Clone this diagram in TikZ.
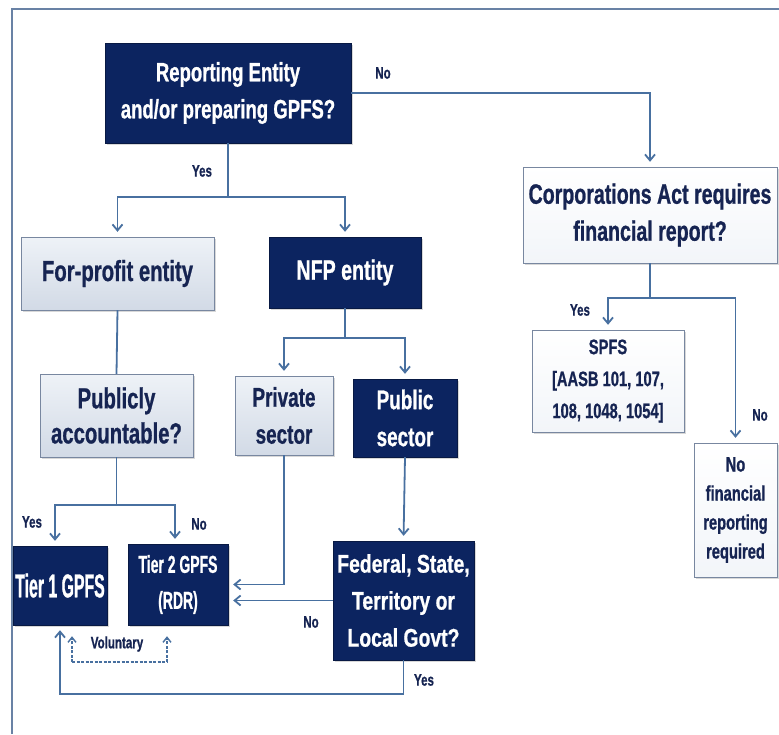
\documentclass[tikz,border=0pt]{standalone}
\usepackage{fontspec}
\setmainfont{Liberation Sans}[FakeStretch=0.70, BoldFeatures={FakeBold=0.8}]
\newfontfamily\fTone{Liberation Sans}[FakeStretch=0.48, BoldFeatures={FakeBold=0.8}]
\newfontfamily\fTtwo{Liberation Sans}[FakeStretch=0.57, BoldFeatures={FakeBold=0.8}]
\newfontfamily\fFed{Liberation Sans}[FakeStretch=0.76, BoldFeatures={FakeBold=0.8}]
\usetikzlibrary{arrows.meta,shadows}
\definecolor{navy}{RGB}{12,36,96}
\definecolor{txtnavy}{RGB}{22,36,82}
\definecolor{lnblue}{RGB}{72,112,160}
\definecolor{lightA}{RGB}{238,242,247}
\definecolor{lightB}{RGB}{210,218,230}
\definecolor{whiteB}{RGB}{242,245,249}
\definecolor{framec}{RGB}{105,130,165}
\definecolor{bordgray}{RGB}{120,135,160}
\begin{document}
\begin{tikzpicture}[x=1pt,y=-1pt,
  basebox/.style={rectangle, align=center, inner sep=0pt,
    drop shadow={opacity=0.3,shadow xshift=2pt,shadow yshift=-2pt}},
  darkbox/.style={basebox, draw=navy!70!black, fill=navy, text=white},
  lightbox/.style={basebox, draw=bordgray, top color=lightA, bottom color=lightB, text=txtnavy},
  whitebox/.style={basebox, draw=bordgray, top color=white, bottom color=whiteB, text=txtnavy},
  bigfont/.style={font=\bfseries\fontsize{28}{37}\selectfont},
  conn/.style={draw=lnblue, line width=1.8pt},
  arr/.style={conn, -{Straight Barb[length=6pt,width=10pt]}, shorten >=5pt},
  lbl/.style={text=txtnavy, font=\bfseries\fontsize{16.5}{18}\selectfont, inner sep=0pt},
  volline/.style={draw=lnblue, line width=1.4pt, dash pattern=on 3pt off 1.5pt},
  volarr/.style={volline, -{Straight Barb[length=5pt,width=8pt]}},
]
\useasboundingbox (0,0) rectangle (779,734);
\fill[white] (0,0) rectangle (779,734);
% frame
\draw[framec, line width=1.5pt] (12,734) -- (12,9) -- (779,9);

% nodes
\node[darkbox, font=\bfseries\fontsize{26.5}{37}\selectfont, minimum width=246pt, minimum height=100pt] (rep) at (228,93) {Reporting Entity\\and/or preparing GPFS?};
\node[whitebox, bigfont, minimum width=254pt, minimum height=96pt] (corp) at (650,215) {Corporations Act requires\\financial report?};
\node[lightbox, font=\bfseries\fontsize{29}{37}\selectfont, minimum width=193pt, minimum height=73pt] (forp) at (117.5,273.5) {For-profit entity};
\node[darkbox, bigfont, minimum width=152pt, minimum height=71pt] (nfp) at (345,272.5) {NFP entity};
\node[lightbox, font=\bfseries\fontsize{29}{35}\selectfont, minimum width=153pt, minimum height=83pt] (pub) at (116.5,415.5) {Publicly\\accountable?};
\node[lightbox, font=\bfseries\fontsize{27}{37}\selectfont, minimum width=98pt, minimum height=79pt] (priv) at (284,415.5) {Private\\sector};
\node[darkbox, font=\bfseries\fontsize{27}{37}\selectfont, minimum width=104pt, minimum height=78pt] (publ) at (405,418) {Public\\sector};
\node[darkbox, font=\fTone\bfseries\fontsize{33}{36}\selectfont, minimum width=94pt, minimum height=79pt] (t1) at (60,585.5) {Tier 1 GPFS};
\node[darkbox, font=\fTtwo\bfseries\fontsize{24.5}{36}\selectfont, minimum width=100pt, minimum height=81pt] (t2) at (178,584.5) {Tier 2 GPFS\\(RDR)};
\node[darkbox, font=\fFed\bfseries\fontsize{25.5}{37}\selectfont, minimum width=141pt, minimum height=119pt] (fed) at (403.5,600.5) {Federal, State,\\Territory or\\Local Govt?};
\node[whitebox, font=\bfseries\fontsize{21}{32}\selectfont, minimum width=152pt, minimum height=102pt] (spfs) at (608,381) {SPFS\\{}[AASB 101, 107,\\108, 1048, 1054]};
\node[whitebox, font=\bfseries\fontsize{21}{29}\selectfont, minimum width=83pt, minimum height=134pt] (nofin) at (735.5,510) {No\\financial\\reporting\\required};

% junction coordinates
\coordinate (j1) at (228,197);
\coordinate (j2) at (345,338);
\coordinate (j3) at (116.5,505);
\coordinate (j4) at (650,298);
\coordinate (j5) at (403.5,694);
\coordinate (va) at (72,662);
\coordinate (vb) at (167,662);

% connectors
\draw[arr] (rep.east) -| (corp.north);
\draw[conn] (rep.south) -- (j1);
\draw[arr] (j1) -| (forp.north);
\draw[arr] (j1) -| (nfp.north);
\draw[conn] (forp.south) -- (pub.north);
\draw[conn] (nfp.south) -- (j2);
\draw[arr] (j2) -| (priv.north);
\draw[arr] (j2) -| (publ.north);
\draw[conn] (pub.south) -- (j3);
\draw[arr] (j3) -| ([xshift=-5pt]t1.north);
\draw[arr] (j3) -| ([xshift=-3pt]t2.north);
\draw[arr] (priv.south) |- (t2.east);
\draw[arr] (publ.south) -- (fed.north);
\draw[arr] (fed.west) -- (fed.west -| t2.east);
\draw[conn] (fed.south) -- (j5);
\draw[arr] (j5) -| (t1.south);
\draw[conn] (corp.south) -- (j4);
\draw[arr] (j4) -| (spfs.north);
\draw[arr] (j4) -| (nofin.north);
% voluntary
\draw[volline] (va) -- (vb);
\draw[volarr, shorten >=11pt] (va) -- (va |- t1.south);
\draw[volarr, shorten >=11pt] (vb) -- (vb |- t2.south);

% labels
\node[lbl] (lno1) at (383,73) {No};
\node[lbl] (lyes1) at (202,171) {Yes};
\node[lbl] (lyes2) at (32,522) {Yes};
\node[lbl] (lno2) at (199,524) {No};
\node[lbl] (lno3) at (311,622) {No};
\node[lbl] (lyes3) at (424,680) {Yes};
\node[lbl] (lvol) at (117,644) {Voluntary};
\node[lbl] (lyes4) at (580,310) {Yes};
\node[lbl] (lno4) at (760,415) {No};
\end{tikzpicture}
\end{document}
